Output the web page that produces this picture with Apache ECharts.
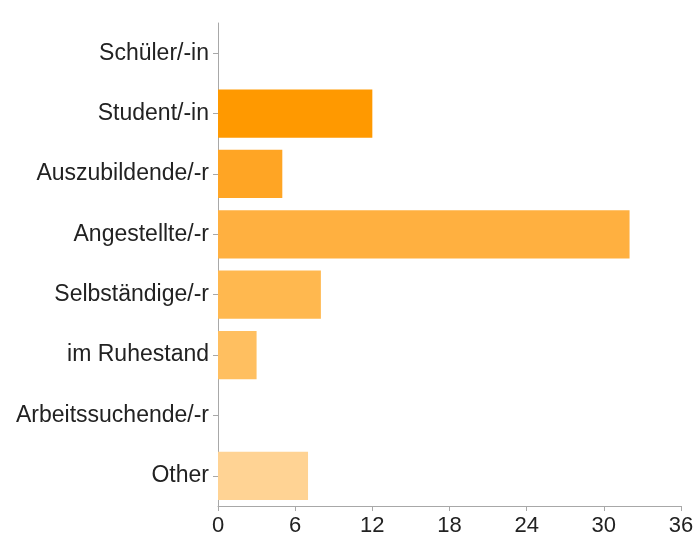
<!DOCTYPE html>
<html><head><meta charset="utf-8">
<script src="https://cdn.jsdelivr.net/npm/echarts@6/dist/echarts.min.js"></script>
<style>html,body{margin:0;padding:0;background:#fff}#c{width:697px;height:537px}</style>
</head><body><div id="c"></div>
<script>
const categories = ["Schüler/-in","Student/-in","Auszubildende/-r","Angestellte/-r","Selbständige/-r","im Ruhestand","Arbeitssuchende/-r","Other"];
const values = [0, 12, 5, 32, 8, 3, 0, 7];
const barColors = ["#ff9900","#ff9900","#ffa524","#ffb040","#ffb84f","#ffbf60","#ffc670","#ffd394"];
const xTicks = [0, 6, 12, 18, 24, 30, 36];

const chart = echarts.init(document.getElementById('c'), null, {renderer:'canvas'});
chart.setOption({
  animation:false,
  grid:{left:218, right:16, top:23, bottom:31, containLabel:false},
  xAxis:{type:'value', min:xTicks[0], max:xTicks[xTicks.length-1], interval:6,
    axisLine:{show:true, lineStyle:{color:'#a8a8a8', width:1}},
    axisTick:{show:true, length:5, lineStyle:{color:'#a8a8a8'}},
    splitLine:{show:false},
    axisLabel:{color:'#222', fontSize:22, fontFamily:'Liberation Sans, Arial, sans-serif', margin:9}},
  yAxis:{type:'category', data:categories, inverse:true,
    axisLine:{show:true, lineStyle:{color:'#a8a8a8', width:1}},
    axisTick:{show:true, alignWithLabel:true, length:5, lineStyle:{color:'#a8a8a8'}},
    axisLabel:{color:'#222', fontSize:23, fontFamily:'Liberation Sans, Arial, sans-serif', margin:9}},
  series:[{type:'bar', barWidth:'80%',
    data: values.map((v,i)=>({value:v, itemStyle:{color:barColors[i]}}))}]
});
</script></body></html>
